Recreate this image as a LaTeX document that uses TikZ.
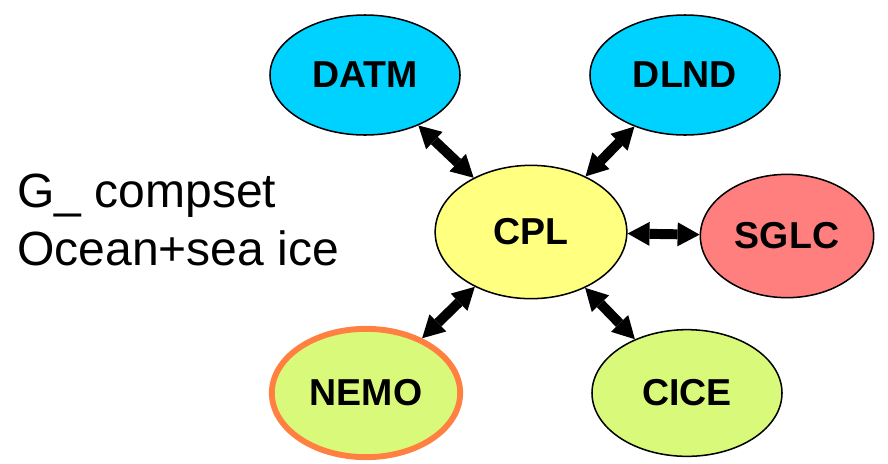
\documentclass[tikz,border=0pt]{standalone}
\usepackage{fontspec}
\setmainfont{Liberation Sans}
\usetikzlibrary{shapes.geometric}
\usetikzlibrary{arrows.meta}

\definecolor{datacyan}{RGB}{0,210,255}
\definecolor{cplyellow}{RGB}{255,255,128}
\definecolor{glcred}{RGB}{255,127,127}
\definecolor{activegreen}{RGB}{217,249,122}
\definecolor{nemoorange}{RGB}{255,128,64}

\tikzset{
  comp/.style={ellipse, draw=black, line width=1.3pt, inner sep=0pt,
    font=\fontsize{32pt}{32pt}\selectfont\bfseries},
  link/.style={line width=8.5pt, >={Triangle[length=0.66cm,width=0.72cm,line width=0pt]}, <->}
}

\begin{document}
\begin{tikzpicture}[x=0.03cm,y=-0.03cm]
\useasboundingbox (0,0) rectangle (888,463);
\node[comp, fill=datacyan, minimum width=5.7cm, minimum height=3.6cm] (datm) at (365,75) {DATM};
\node[comp, fill=datacyan, minimum width=5.7cm, minimum height=3.6cm] (dlnd) at (685,75) {DLND};
\node[comp, fill=cplyellow, minimum width=5.75cm, minimum height=4.0cm] (cpl) at (531,232) {CPL};
\node[comp, fill=glcred, minimum width=5.2cm, minimum height=3.7cm] (sglc) at (787,236) {SGLC};
\node[comp, fill=activegreen, draw=nemoorange, line width=5pt, minimum width=5.65cm, minimum height=3.85cm] (nemo) at (366,393) {NEMO};
\node[comp, fill=activegreen, minimum width=5.7cm, minimum height=3.8cm] (cice) at (687,393) {CICE};
\node[anchor=west, inner sep=0pt, align=left, font=\fontsize{41pt}{50pt}\selectfont] (label) at (17,220) {G\_ compset\\Ocean+sea ice};
\draw[link] (datm) -- (cpl);
\draw[link] (dlnd) -- (cpl);
\draw[link] (cpl) -- (sglc);
\draw[link] (cpl) -- (nemo);
\draw[link] (cpl) -- (cice);
\end{tikzpicture}
\end{document}
